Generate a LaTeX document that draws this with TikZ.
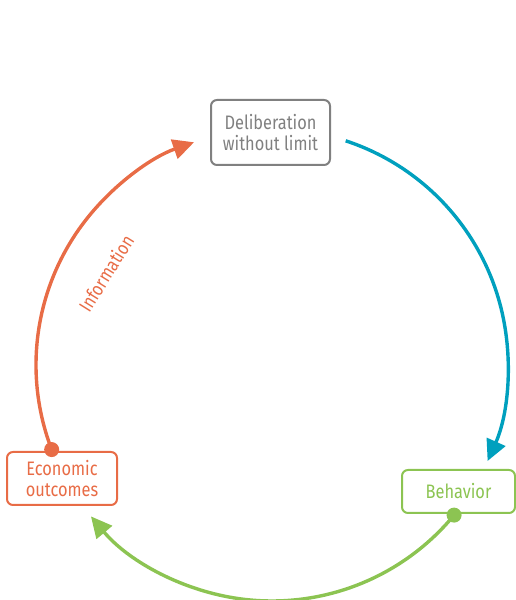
\documentclass[tikz,border=0pt]{standalone}
\usepackage{fontspec}
\setmainfont{Fira Sans}[FakeStretch=0.84]
\usetikzlibrary{arrows.meta}
\definecolor{cgray}{RGB}{128,128,128}
\definecolor{cblue}{RGB}{0,160,190}
\definecolor{cgreen}{RGB}{140,196,82}
\definecolor{corange}{RGB}{232,108,70}
\begin{document}
\begin{tikzpicture}[x=1pt,y=1pt,
  box/.style={draw, line width=2pt, rounded corners=6pt, align=center, font=\fontsize{19.5}{21.5}\selectfont, inner sep=0pt},
  flow/.style={line width=3.4pt, -{Triangle[length=21pt,width=20pt]}},
  dot/.style={circle, inner sep=0pt, minimum size=15pt, fill}]
\useasboundingbox (0,0) rectangle (516,600);
\coordinate (c) at (272,235);
\node[box, draw=cgray, text=cgray, minimum width=119pt, minimum height=65pt] (delib) at (270.5,467.5) {Deliberation\\without limit};
\node[box, draw=corange, text=corange, minimum width=110pt, minimum height=53pt] (econ) at (62,121.5) {Economic\\outcomes};
\node[box, draw=cgreen, text=cgreen, minimum width=113pt, minimum height=43pt] (behav) at (458.5,108.5) {Behavior};
% blue arc
\draw[flow, cblue] (c) ++(71.8:236) arc[start angle=71.8, end angle=-24, radius=236];
% orange arc
\draw[flow, corange] (c) ++(201:236) coordinate (os) arc[start angle=201, end angle=109.3, radius=236];
\node[dot, fill=corange] at (os) {};
% green arc
\draw[flow, cgreen] (c) ++(-39.5:236) coordinate (gs) arc[start angle=-39.5, end angle=-140.1, radius=236];
\node[dot, fill=cgreen] at (gs) {};
\node[text=corange, rotate=58, font=\fontsize{19}{21}\selectfont] (info) at (106,327) {Information};
\end{tikzpicture}
\end{document}
